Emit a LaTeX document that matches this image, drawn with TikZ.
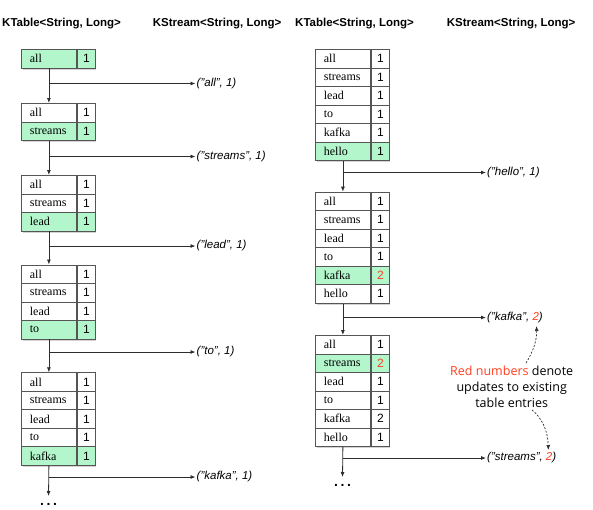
\documentclass[tikz,border=0pt]{standalone}
\usepackage{fontspec}
\setmainfont{Liberation Serif}
\setsansfont{Liberation Sans}
\newfontfamily\commentfont{Open Sans}
\usetikzlibrary{arrows.meta,shadows,calc}
\definecolor{hlgreen}{RGB}{180,246,204}
\definecolor{upred}{RGB}{255,62,30}
\definecolor{edge}{RGB}{85,85,85}
\definecolor{wire}{RGB}{45,45,45}
\newcommand\ktable[5]{%
  \node[tablebox, minimum height={#4*18.5}] (#1) at (#2,#3) {};
  \foreach [count=\i] \k/\v/\s in {#5} {
    \node[keycell,\s] (#1k\i) at ({#2},{#3+(\i-1)*18.5}) {\k};
    \node[valcell,\s] (#1v\i) at (#1k\i.north east) {\v};
  }%
}
\begin{document}
\begin{tikzpicture}[x=1pt,y=-1pt,
  header/.style={font=\sffamily\bfseries\fontsize{11.5}{13}\selectfont, anchor=base west, inner sep=0},
  tablebox/.style={anchor=north west, minimum width=73.5, inner sep=0, fill=white, draw=edge, line width=0.8,
    drop shadow={shadow xshift=1.2pt, shadow yshift=-1.8pt, opacity=0.35}},
  keycell/.style={anchor=north west, draw=edge, line width=0.8, minimum height=18.5, text width=38,
    inner xsep=8.5, inner ysep=0, align=left, font=\fontsize{12}{13}\selectfont},
  valcell/.style={anchor=north west, draw=edge, line width=0.8, minimum height=18.5, minimum width=18.5,
    inner sep=0, font=\sffamily\fontsize{12}{13}\selectfont},
  plainrow/.style={},
  hirow/.style={fill=hlgreen},
  stream/.style={font=\sffamily\itshape\fontsize{11.5}{13}\selectfont, anchor=west, inner sep=1},
  flow/.style={draw=wire, line width=0.8, -{Latex[length=5pt,width=4pt]}},
  note/.style={dashed, dash pattern=on 2pt off 1.6pt, draw=wire, line width=0.7, -{Latex[length=5pt,width=4pt]}},
  dotsnode/.style={font=\sffamily\bfseries\fontsize{14}{14}\selectfont, inner sep=0, text height=9, text depth=0, anchor=north},
  comment/.style={font=\commentfont\fontsize{12.5}{16.3}\selectfont, align=center, inner sep=0}
]
\useasboundingbox (0,0) rectangle (593,509);

% headers
\node[header] (h1) at (2,26.7) {KTable<String, Long>};
\node[header] (h2) at (152.7,26.7) {KStream<String, Long>};
\node[header] (h3) at (295,26.7) {KTable<String, Long>};
\node[header] (h4) at (446.7,26.7) {KStream<String, Long>};

% left column tables
\ktable{La}{21}{49}{1}{all/1/hirow}
\ktable{Lb}{21}{103}{2}{all/1/plainrow, streams/1/hirow}
\ktable{Lc}{21}{175}{3}{all/1/plainrow, streams/1/plainrow, lead/1/hirow}
\ktable{Ld}{21}{264.5}{4}{all/1/plainrow, streams/1/plainrow, lead/1/plainrow, to/1/hirow}
\ktable{Le}{21}{372.3}{5}{all/1/plainrow, streams/1/plainrow, lead/1/plainrow, to/1/plainrow, kafka/1/hirow}

% right column tables
\ktable{Ra}{315}{49}{6}{all/1/plainrow, streams/1/plainrow, lead/1/plainrow, to/1/plainrow, kafka/1/plainrow, hello/1/hirow}
\ktable{Rb}{315}{191.7}{6}{all/1/plainrow, streams/1/plainrow, lead/1/plainrow, to/1/plainrow, kafka/\textcolor{upred}{2}/hirow, hello/1/plainrow}
\ktable{Rc}{315}{335}{6}{all/1/plainrow, streams/\textcolor{upred}{2}/hirow, lead/1/plainrow, to/1/plainrow, kafka/2/plainrow, hello/1/plainrow}

% stream records
\node[stream] (sa) at (195.5,83.5) {("all", 1)};
\node[stream] (sb) at (195.5,156.5) {("streams", 1)};
\node[stream] (sc) at (195.5,246) {("lead", 1)};
\node[stream] (sd) at (195.5,352) {("to", 1)};
\node[stream] (se) at (195.5,477) {("kafka", 1)};
\node[stream] (ra) at (486,172.5) {("hello", 1)};
\node[stream] (rb) at (486,317.5) {("kafka", \textcolor{upred}{2})};
\node[stream] (rc) at (486,458) {("streams", \textcolor{upred}{2})};

% ellipses
\node[dotsnode] (Ldots) at (48.5,496) {.\kern2.6pt.\kern2.6pt.};
\node[dotsnode] (Rdots) at (342.5,477) {.\kern2.6pt.\kern2.6pt.};

% vertical flow
\draw[flow] (Lak1.south) -- (Lbk1.north);
\draw[flow] (Lbk2.south) -- (Lck1.north);
\draw[flow] (Lck3.south) -- (Ldk1.north);
\draw[flow] (Ldk4.south) -- (Lek1.north);
\draw[flow] (Lek5.south) -- (Ldots.north);
\draw[flow] (Rak6.south) -- (Rbk1.north);
\draw[flow] (Rbk6.south) -- (Rck1.north);
\draw[flow] (Rck6.south) -- (Rdots.north);

% branches to stream
\draw[flow] (Lak1.south |- sa.west) -- (sa.west);
\draw[flow] (Lbk2.south |- sb.west) -- (sb.west);
\draw[flow] (Lck3.south |- sc.west) -- (sc.west);
\draw[flow] (Ldk4.south |- sd.west) -- (sd.west);
\draw[flow] (Lek5.south |- se.west) -- (se.west);
\draw[flow] (Rak6.south |- ra.west) -- (ra.west);
\draw[flow] (Rbk6.south |- rb.west) -- (rb.west);
\draw[flow] (Rck6.south |- rc.west) -- (rc.west);

% comment
\node[comment] (cm) at (511.7,387) {\textcolor{upred}{Red numbers} denote\\updates to existing\\table entries};
\coordinate (cmA) at (526,363);
\coordinate (kafka2) at (536.5,326);
\coordinate (cmB) at (532,410);
\coordinate (streams2) at (548.3,450);
\draw[note] (cmA) .. controls (533,352) and (537,340) .. (kafka2);
\draw[note] (cmB) .. controls (541,417) and (548,430) .. (streams2);
\end{tikzpicture}
\end{document}
